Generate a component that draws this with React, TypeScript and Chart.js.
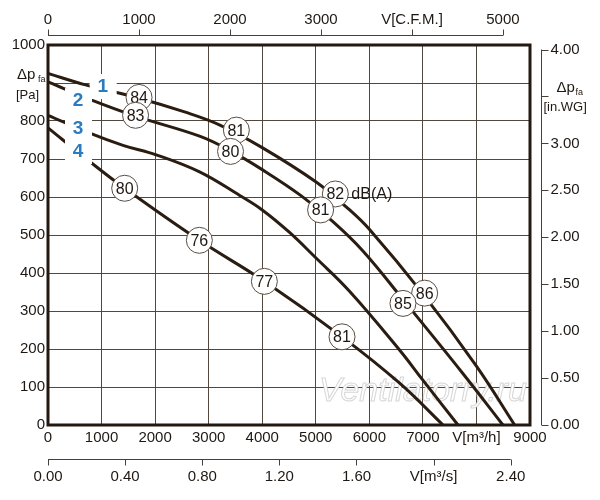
import { useEffect, useRef } from "react"
import { Chart, registerables } from "chart.js"
import type { Plugin } from "chart.js"

Chart.register(...registerables)

// fan curves: flow in m3/h, static pressure in Pa
const flow1 = [0, 700, 1700, 2550, 3200, 4000, 5000, 5600, 6000, 7000, 8000, 8714]
const pressure1 = [925, 895, 860, 824, 790, 730, 640, 570, 515, 345, 155, 0]

const flow2 = [0, 780, 1650, 2830, 3400, 4000, 4730, 5320, 5880, 6630, 7750, 8495]
const pressure2 = [903, 857, 812, 760, 722, 672, 603, 535, 458, 330, 135, 0]

const flow3 = [0, 780, 1400, 2020, 2830, 3580, 4000, 4500, 5000, 5630, 6560, 7000, 7655]
const pressure3 = [815, 768, 736, 711, 666, 604, 566, 508, 440, 352, 198, 118, 0]

const flow4 = [0, 747, 1432, 2826, 4040, 5490, 6566, 7375]
const pressure4 = [782, 697, 623, 486, 378, 232, 110, 0]

// sound level marks dB(A)
const noiseFlow = [1700, 3517, 5365, 7033, 1635, 3408, 5090, 6628, 1432, 2826, 4040, 5490]
const noisePressure = [862, 776, 608, 347, 815, 720, 566, 320, 623, 486, 378, 232]
const noiseLevel = ["84", "81", "82", "86", "83", "80", "81", "85", "80", "76", "77", "81"]

// curve numbers
const curveNames = ["1", "2", "3", "4"]
const curveNameFlow = [1021, 560, 560, 560]
const curveNamePressure = [892, 855, 783, 721]

// axes
const flowTicks = [0, 1000, 2000, 3000, 4000, 5000, 6000, 7000, 8000, 9000]
const flowTickLabels = ["0", "1000", "2000", "3000", "4000", "5000", "6000", "7000", "V[m³/h]", "9000"]
const pressureTicks = [0, 100, 200, 300, 400, 500, 600, 700, 800, 1000]
const cfmTicks = [0, 1000, 2000, 3000, 4000, 5000]
const cfmTickLabels = ["0", "1000", "2000", "3000", "V[C.F.M.]", "5000"]
const m3sTicks = [0, 0.4, 0.8, 1.2, 1.6, 2.0, 2.4]
const m3sTickLabels = ["0.00", "0.40", "0.80", "1.20", "1.60", "V[m³/s]", "2.40"]
const inwgTicks = [0, 0.5, 1, 1.5, 2, 2.5, 3, 3.5, 4]
const inwgTickLabels = ["0.00", "0.50", "1.00", "1.50", "2.00", "2.50", "3.00", "", "4.00"]

const M3H_PER_CFM = 1.699
const M3H_PER_M3S = 3600
const PA_PER_INWG = 247

const FONT = "'Liberation Sans', Arial, sans-serif"
const TEXT = "#1f1812"
const LINE = "#2a1c10"
const AXIS = "#4a3f35"
const GRID = "#52473d"

const pts = (xs: number[], ys: number[]) => xs.map((x, i) => ({ x, y: ys[i] }))

const overlay: Plugin = {
  id: "overlay",
  beforeDatasetsDraw(chart) {
    const { ctx, chartArea } = chart
    ctx.save()
    ctx.font = `italic 34px ${FONT}`
    ctx.textAlign = "left"
    ctx.textBaseline = "alphabetic"
    ctx.fillStyle = "#ffffff"
    ctx.strokeStyle = "rgba(200,200,200,0.75)"
    ctx.lineWidth = 1
    ctx.fillText("Ventilatorry.ru", chartArea.left + 271, chartArea.bottom - 24)
    ctx.strokeText("Ventilatorry.ru", chartArea.left + 271, chartArea.bottom - 24)
    ctx.restore()
  },
  afterDatasetsDraw(chart) {
    const { ctx } = chart
    const xs = chart.scales.x
    const ys = chart.scales.y
    ctx.save()

    // curve numbers on white patches
    curveNames.forEach((name, i) => {
      const px = xs.getPixelForValue(curveNameFlow[i])
      const py = ys.getPixelForValue(curveNamePressure[i])
      ctx.fillStyle = "#ffffff"
      ctx.fillRect(px - 13, py - 12, 27, 25)
      ctx.fillStyle = "#2a7bbf"
      ctx.font = `bold 19px ${FONT}`
      ctx.textAlign = "center"
      ctx.textBaseline = "middle"
      ctx.fillText(name, px, py + 1)
    })

    // dB(A) circles
    noiseLevel.forEach((lvl, i) => {
      const px = xs.getPixelForValue(noiseFlow[i])
      const py = ys.getPixelForValue(noisePressure[i])
      ctx.beginPath()
      ctx.arc(px, py, 13, 0, Math.PI * 2)
      ctx.fillStyle = "#ffffff"
      ctx.fill()
      ctx.lineWidth = 1
      ctx.strokeStyle = "#5a4c40"
      ctx.stroke()
      ctx.fillStyle = TEXT
      ctx.font = `16px ${FONT}`
      ctx.textAlign = "center"
      ctx.textBaseline = "middle"
      ctx.fillText(lvl, px, py + 1)
      if (i === 2) {
        ctx.textAlign = "left"
        ctx.fillText("dB(A)", px + 16, py + 1)
      }
    })
    ctx.restore()
  },
  afterDraw(chart) {
    const { ctx, chartArea } = chart
    const { left, right, top, bottom } = chartArea
    const xs = chart.scales.x
    const ys = chart.scales.y
    ctx.save()

    // frame
    ctx.strokeStyle = "#231910"
    ctx.lineWidth = 3
    ctx.strokeRect(left, top, right - left, bottom - top)

    ctx.fillStyle = TEXT
    ctx.font = `15px ${FONT}`

    // left pressure labels
    ctx.textAlign = "right"
    ctx.textBaseline = "middle"
    pressureTicks.forEach((v) => ctx.fillText(String(v), left - 3, ys.getPixelForValue(v)))
    const unitY = ys.getPixelForValue(900)
    ctx.textAlign = "left"
    ctx.fillText("Δp", 17, unitY - 8)
    ctx.font = `9px ${FONT}`
    ctx.fillText("fa", 38, unitY - 3)
    ctx.font = `13px ${FONT}`
    ctx.fillText("[Pa]", 16, unitY + 12)

    // bottom m3/h labels
    ctx.font = `15px ${FONT}`
    ctx.textAlign = "center"
    flowTicks.forEach((v, i) => ctx.fillText(flowTickLabels[i], xs.getPixelForValue(v), bottom + 13))

    ctx.strokeStyle = AXIS
    ctx.lineWidth = 1

    // top CFM axis
    const topY = top - 9.5
    ctx.beginPath()
    ctx.moveTo(xs.getPixelForValue(0), topY)
    ctx.lineTo(xs.getPixelForValue(cfmTicks[cfmTicks.length - 1] * M3H_PER_CFM), topY)
    cfmTicks.forEach((v) => {
      const px = Math.round(xs.getPixelForValue(v * M3H_PER_CFM)) + 0.5
      ctx.moveTo(px, topY)
      ctx.lineTo(px, topY - 6)
    })
    ctx.stroke()
    cfmTicks.forEach((v, i) => ctx.fillText(cfmTickLabels[i], xs.getPixelForValue(v * M3H_PER_CFM), top - 25))

    // bottom m3/s axis
    const botY = bottom + 34.5
    ctx.beginPath()
    ctx.moveTo(xs.getPixelForValue(0), botY)
    ctx.lineTo(xs.getPixelForValue(m3sTicks[m3sTicks.length - 1] * M3H_PER_M3S), botY)
    m3sTicks.forEach((v) => {
      const px = Math.round(xs.getPixelForValue(v * M3H_PER_M3S)) + 0.5
      ctx.moveTo(px, botY)
      ctx.lineTo(px, botY + 6)
    })
    ctx.stroke()
    m3sTicks.forEach((v, i) => ctx.fillText(m3sTickLabels[i], xs.getPixelForValue(v * M3H_PER_M3S), bottom + 52))

    // right in.WG axis
    const rx = right + 11.5
    ctx.beginPath()
    ctx.moveTo(rx, ys.getPixelForValue(0))
    ctx.lineTo(rx, ys.getPixelForValue(inwgTicks[inwgTicks.length - 1] * PA_PER_INWG))
    inwgTicks.forEach((v) => {
      const py = Math.round(ys.getPixelForValue(v * PA_PER_INWG)) + 0.5
      ctx.moveTo(rx, py)
      ctx.lineTo(rx + 7, py)
    })
    ctx.stroke()
    ctx.textAlign = "left"
    inwgTicks.forEach((v, i) => ctx.fillText(inwgTickLabels[i], rx + 9, ys.getPixelForValue(v * PA_PER_INWG)))
    const wgY = ys.getPixelForValue(3.5 * PA_PER_INWG)
    ctx.fillText("Δp", rx + 15, wgY - 9)
    ctx.font = `9px ${FONT}`
    ctx.fillText("fa", rx + 34, wgY - 4)
    ctx.font = `13px ${FONT}`
    ctx.fillText("[in.WG]", rx + 2, wgY + 11)

    ctx.restore()
  },
}

export default function App() {
  const canvasRef = useRef<HTMLCanvasElement>(null)

  useEffect(() => {
    if (!canvasRef.current) return

    const curve = (xs: number[], ys: number[]) => ({
      data: pts(xs, ys),
      borderColor: LINE,
      borderWidth: 3,
      pointRadius: 0,
      tension: 0.4,
      fill: false,
    })

    const chart = new Chart(canvasRef.current, {
      type: "line",
      data: {
        datasets: [
          curve(flow1, pressure1),
          curve(flow2, pressure2),
          curve(flow3, pressure3),
          curve(flow4, pressure4),
        ],
      },
      options: {
        responsive: false,
        animation: false,
        devicePixelRatio: 1,
        layout: { padding: { left: 48, right: 70, top: 45, bottom: 75 } },
        plugins: {
          legend: { display: false },
          tooltip: { enabled: false },
        },
        scales: {
          x: {
            type: "linear",
            min: 0,
            max: 9000,
            ticks: { display: false, stepSize: 1000, autoSkip: false },
            grid: { color: GRID, lineWidth: 1, drawTicks: false },
            border: { display: false },
            afterFit: (s) => { s.height = 0 },
          },
          y: {
            type: "linear",
            min: 0,
            max: 1000,
            ticks: { display: false, stepSize: 100 },
            grid: { color: GRID, lineWidth: 1, drawTicks: false },
            border: { display: false },
            afterFit: (s) => { s.width = 0 },
          },
        },
      },
      plugins: [overlay],
    })

    return () => chart.destroy()
  }, [])

  return (
    <div style={{ position: "absolute", left: 0, top: 0, width: 600, height: 500, background: "#ffffff" }}>
      <canvas ref={canvasRef} width={600} height={500} style={{ width: 600, height: 500 }} />
    </div>
  )
}
